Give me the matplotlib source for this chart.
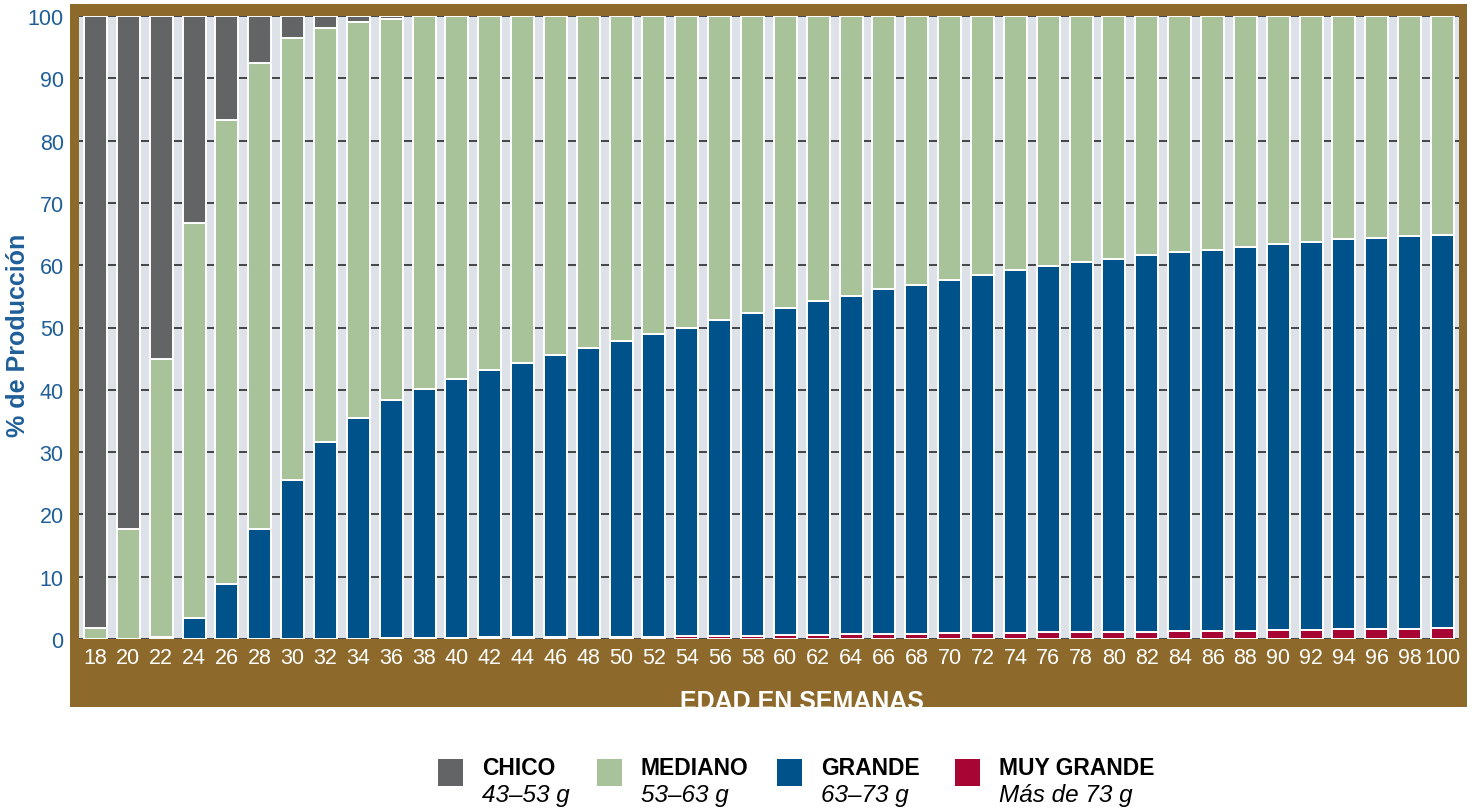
"""Egg size distribution by flock age, stacked 100% bar chart."""

import matplotlib
matplotlib.use("Agg")
import matplotlib.pyplot as plt
import numpy as np
from matplotlib.patches import Rectangle

# --- data -------------------------------------------------------------
weeks = list(range(18, 101, 2))

chico = [98.2, 82.3, 55.0, 33.2, 16.7, 7.5, 3.5, 1.9, 1.0, 0.5,
         0, 0, 0, 0, 0, 0, 0, 0, 0, 0, 0,
         0, 0, 0, 0, 0, 0, 0, 0, 0, 0, 0,
         0, 0, 0, 0, 0, 0, 0, 0, 0, 0]
mediano = [1.8, 17.7, 44.7, 63.4, 74.4, 74.9, 70.9, 66.5, 63.6, 61.2,
           59.8, 58.2, 56.9, 55.7, 54.4, 53.3, 52.2, 51.0, 50.0, 48.8, 47.7,
           46.8, 45.8, 44.9, 43.9, 43.1, 42.3, 41.5, 40.7, 40.1, 39.5,
           39.0, 38.4, 37.9, 37.6, 37.1, 36.6, 36.3, 35.8, 35.7, 35.3, 35.1]
grande = [0, 0, 0.3, 3.4, 8.9, 17.6, 25.6, 31.6, 35.35, 38.2,
          40.05, 41.6, 42.85, 44.0, 45.3, 46.35, 47.4, 48.6, 49.55, 50.7, 51.75,
          52.6, 53.5, 54.35, 55.3, 56.05, 56.8, 57.55, 58.3, 58.85, 59.4,
          59.85, 60.4, 60.85, 61.1, 61.55, 62.0, 62.25, 62.65, 62.7, 63.05, 63.15]
muy_grande = [0, 0, 0, 0, 0, 0, 0, 0, 0.05, 0.1,
              0.15, 0.2, 0.25, 0.3, 0.3, 0.35, 0.4, 0.4, 0.45, 0.5, 0.55,
              0.6, 0.7, 0.75, 0.8, 0.85, 0.9, 0.95, 1.0, 1.05, 1.1,
              1.15, 1.2, 1.25, 1.3, 1.35, 1.4, 1.45, 1.55, 1.6, 1.65, 1.75]

series_labels = ["CHICO", "MEDIANO", "GRANDE", "MUY GRANDE"]
series_ranges = ["43–53 g", "53–63 g", "63–73 g", "Más de 73 g"]

# --- style ------------------------------------------------------------
COLORS = {
    "chico": "#636466",
    "mediano": "#a8c399",
    "grande": "#00538a",
    "muy_grande": "#a70634",
}
BROWN = "#8d6a2b"
PLOT_BG = "#dde1e8"
AXIS_BLUE = "#1f5f99"
NARROW = ["Liberation Sans Narrow", "Liberation Sans", "DejaVu Sans"]
SANS = ["Liberation Sans", "DejaVu Sans"]

W, H = 1474, 812


def fx(px):
    return px / W


def fy(py):
    return 1 - py / H


fig = plt.figure(figsize=(W / 100, H / 100), dpi=100)
fig.patch.set_facecolor("white")

# brown frame behind the plot area
frame = Rectangle((fx(70), fy(708)), fx(1467) - fx(70), fy(5) - fy(708),
                  transform=fig.transFigure, facecolor=BROWN,
                  edgecolor="none", zorder=0)
fig.patches.append(frame)

ax = fig.add_axes([fx(79), fy(640), fx(1459) - fx(79), fy(17) - fy(640)])
ax.set_facecolor(PLOT_BG)
ax.set_zorder(1)

x = np.arange(len(weeks))
bottom = np.zeros(len(weeks))
stack = [("muy_grande", muy_grande), ("grande", grande),
         ("mediano", mediano), ("chico", chico)]
for key, values in stack:
    vals = np.array(values)
    ax.bar(x, vals, width=0.7, bottom=bottom, color=COLORS[key],
           edgecolor="white", linewidth=1.4, zorder=3)
    bottom += vals

ax.set_xlim(-0.5, len(weeks) - 0.5)
ax.set_ylim(0, 100)
ax.set_yticks(range(0, 101, 10))
ax.set_xticks(x)
ax.set_xticklabels([str(w) for w in weeks])
ax.yaxis.grid(True, color="#1a1a1a", linewidth=1.1, zorder=1)
ax.set_axisbelow(True)
for spine in ax.spines.values():
    spine.set_visible(False)

ax.tick_params(axis="both", length=0)
ax.tick_params(axis="y", pad=11, labelcolor=AXIS_BLUE)
ax.tick_params(axis="x", pad=6, labelcolor="white")
for lab in ax.get_yticklabels() + ax.get_xticklabels():
    lab.set_family(NARROW)
    lab.set_fontsize(15.5)

fig.text(fx(18), fy(335), "% de Producción", rotation=90, color=AXIS_BLUE,
         fontsize=18, fontweight="bold", family=SANS,
         ha="center", va="center")

# the label runs past the bottom of the frame and is cut off there
xlabel = fig.text(fx(802), fy(709), "EDAD EN SEMANAS", color="white",
                  fontsize=18, fontweight="bold", family=SANS,
                  ha="center", va="baseline", zorder=2)
xlabel.set_clip_path(frame)

# --- legend -----------------------------------------------------------
legend_keys = ["chico", "mediano", "grande", "muy_grande"]
swatch_x = [438, 597, 777, 955]
for key, sx, name, rng in zip(legend_keys, swatch_x, series_labels,
                              series_ranges):
    fig.patches.append(Rectangle((fx(sx), fy(787)), fx(25), 27 / H,
                                 transform=fig.transFigure,
                                 facecolor=COLORS[key], edgecolor="none"))
    fig.text(fx(sx + 44), fy(769), name, fontsize=16.5, fontweight="bold",
             family=SANS, ha="left", va="center", color="black")
    fig.text(fx(sx + 44), fy(796), rng, fontsize=17.5, fontstyle="italic",
             family=SANS, ha="left", va="center", color="black")

fig.savefig("out.png", dpi=100, facecolor=fig.get_facecolor())
